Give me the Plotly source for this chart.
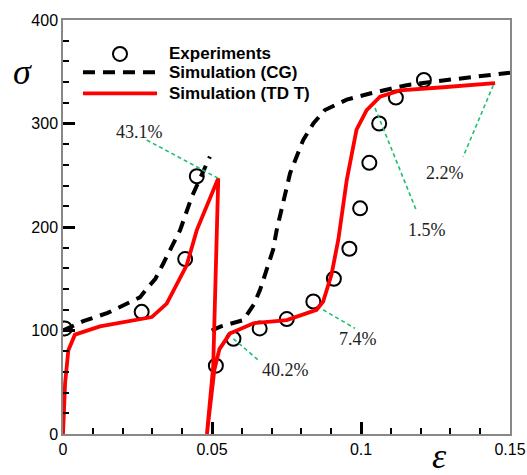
import plotly.graph_objects as go

# Experimental stress-strain points
eps_exp = [0.0006, 0.0264, 0.0410, 0.0449, 0.0513, 0.0572, 0.0660, 0.0751, 0.0840,
           0.0909, 0.0961, 0.0997, 0.1028, 0.1061, 0.1117, 0.1211]
sig_exp = [102, 118, 169, 249, 66, 92, 102, 111, 128, 150, 179, 218, 262, 300, 325, 342]

# Simulation (CG): two loading branches, separated by a gap
eps_cg = [0.0, 0.0068, 0.015, 0.0258, 0.028, 0.031, 0.0337, 0.037, 0.0393, 0.0432, 0.0493,
          None,
          0.0499, 0.053, 0.0605, 0.064, 0.0661, 0.0705, 0.0717, 0.0762, 0.0806, 0.084,
          0.0879, 0.0952, 0.103, 0.1153, 0.1288, 0.1422, 0.150]
sig_cg = [100, 109, 117, 132, 140, 150, 165, 184, 197, 229, 268,
          None,
          100, 104, 110, 125, 139, 178, 197, 252, 284, 300,
          313, 323, 329, 337, 342, 346, 349]

# Simulation (TD T): load, unload, reload
eps_tdt = [0.0, 0.0007, 0.0018, 0.004, 0.0124, 0.0236, 0.0298, 0.0348, 0.0415, 0.0449,
           0.0521, 0.0504, 0.0483, 0.0508, 0.0525, 0.056, 0.0639, 0.0751, 0.0851,
           0.0873, 0.0901, 0.0924, 0.0952, 0.0985, 0.1019, 0.1064, 0.1131, 0.1276, 0.145]
sig_tdt = [0, 49, 81, 96, 104, 110, 113, 126, 163, 197,
           247, 65, 0, 62, 82, 97, 107, 110, 120,
           128, 154, 188, 245, 294, 313, 326, 332, 335, 339]

# Error labels: text, text position, leader line start and end
err_text = ["43.1%", "40.2%", "7.4%", "1.5%", "2.2%"]
err_tx = [0.0258, 0.0745, 0.0991, 0.1220, 0.1282]
err_ty = [292, 62, 92, 197, 252]
lead_x0 = [0.0281, 0.0572, 0.0873, 0.1047, 0.1444]
lead_y0 = [284, 92, 120, 315, 337]
lead_x1 = [0.0521, 0.0661, 0.0980, 0.1187, 0.1343]
lead_y1 = [247, 70, 102, 215, 268]

# Series names shown in the key
series_names = ["Experiments", "Simulation (CG)", "Simulation (TD T)"]

RED = "#ff0000"
CG_DASH = "12px,8px"

fig = go.Figure()
fig.add_trace(go.Scatter(
    x=eps_exp, y=sig_exp, mode="markers", name=series_names[0],
    marker=dict(symbol="circle-open", size=14, color="black", line=dict(width=2, color="black")),
))
fig.add_trace(go.Scatter(
    x=eps_cg, y=sig_cg, mode="lines", name=series_names[1], connectgaps=False,
    line=dict(color="black", width=4, dash=CG_DASH),
))
fig.add_trace(go.Scatter(
    x=eps_tdt, y=sig_tdt, mode="lines", name=series_names[2],
    line=dict(color=RED, width=3.8),
))

shapes = []
annotations = []
for t, tx, ty, x0, y0, x1, y1 in zip(err_text, err_tx, err_ty, lead_x0, lead_y0, lead_x1, lead_y1):
    shapes.append(dict(type="line", xref="x", yref="y", x0=x0, y0=y0, x1=x1, y1=y1,
                       line=dict(color="#1ec070", width=1.6, dash="4px,3px")))
    annotations.append(dict(x=tx, y=ty, xref="x", yref="y", text=t, showarrow=False,
                            xanchor="center", yanchor="middle",
                            font=dict(family="Liberation Serif", size=18, color="#222")))

# Key drawn in the upper-left corner of the plot area
key_sym_x0, key_sym_x1 = 0.0447, 0.2103
key_text_x = 0.2327
key_rows_y = [0.918, 0.874, 0.823]
shapes.append(dict(type="circle", xref="paper", yref="paper",
                   xsizemode="pixel", ysizemode="pixel",
                   xanchor=(key_sym_x0 + key_sym_x1) / 2, yanchor=key_rows_y[0],
                   x0=-7, x1=7, y0=-7, y1=7, line=dict(color="black", width=2)))
shapes.append(dict(type="line", xref="paper", yref="paper",
                   x0=key_sym_x0, x1=key_sym_x1, y0=key_rows_y[1], y1=key_rows_y[1],
                   line=dict(color="black", width=4, dash=CG_DASH)))
shapes.append(dict(type="line", xref="paper", yref="paper",
                   x0=key_sym_x0, x1=key_sym_x1, y0=key_rows_y[2], y1=key_rows_y[2],
                   line=dict(color=RED, width=3.8)))
for name, ky in zip(series_names, key_rows_y):
    annotations.append(dict(x=key_text_x, y=ky, xref="paper", yref="paper", text=f"<b>{name}</b>",
                            showarrow=False, xanchor="left", yanchor="middle",
                            font=dict(family="Liberation Sans", size=17, color="black")))

# Axis symbols
annotations.append(dict(x=-0.0895, y=0.874, xref="paper", yref="paper", text="<i>σ</i>",
                        showarrow=False, xanchor="center", yanchor="middle",
                        font=dict(family="Liberation Serif", size=36, color="black")))
annotations.append(dict(x=0.1265, y=-0.052, xref="x", yref="paper", text="<i>ε</i>",
                        showarrow=False, xanchor="center", yanchor="middle",
                        font=dict(family="Liberation Serif", size=36, color="black")))

axis_common = dict(
    showline=True, linecolor="#888", linewidth=1.5, mirror=True,
    ticks="inside", ticklen=12, tickwidth=2.5, tickcolor="black",
    showgrid=False, zeroline=False, automargin=False,
    tickfont=dict(family="Liberation Sans", size=16, color="black"),
)

fig.update_layout(
    width=527, height=475,
    margin=dict(l=63, r=17, t=20, b=41),
    paper_bgcolor="white", plot_bgcolor="white",
    showlegend=False,
    xaxis=dict(range=[0, 0.15], tickvals=[0, 0.05, 0.1, 0.15], ticktext=["0", "0.05", "0.1", "0.15"],
               minor=dict(ticks="inside", ticklen=6, tickwidth=1.5, tickcolor="black", dtick=0.01),
               **axis_common),
    yaxis=dict(range=[0, 400], tickvals=[0, 100, 200, 300, 400],
               minor=dict(ticks="inside", ticklen=6, tickwidth=1.5, tickcolor="black", dtick=20),
               **axis_common),
    shapes=shapes, annotations=annotations,
)

fig.write_html("out.html")
